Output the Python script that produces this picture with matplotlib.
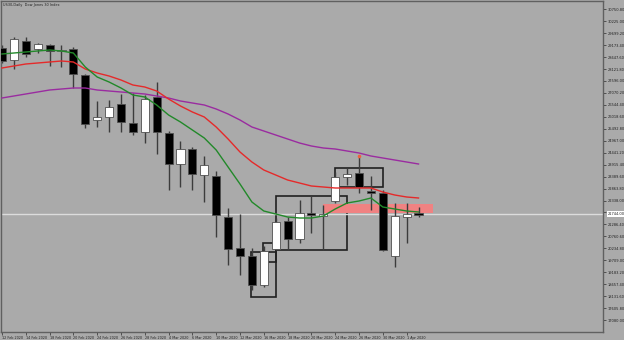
import matplotlib
matplotlib.use("Agg")
import matplotlib.pyplot as plt
from matplotlib.patches import Rectangle
import numpy as np

# fechas (una etiqueta cada 2 velas)
etiquetas_x = ["12 Feb 2020", "14 Feb 2020", "18 Feb 2020", "20 Feb 2020", "24 Feb 2020",
               "26 Feb 2020", "28 Feb 2020", "4 Mar 2020", "6 Mar 2020", "10 Mar 2020",
               "12 Mar 2020", "16 Mar 2020", "18 Mar 2020", "20 Mar 2020", "24 Mar 2020",
               "26 Mar 2020", "30 Mar 2020", "1 Apr 2020"]

# velas diarias
apertura = [29048, 28520, 29356, 29004, 29180, 28916, 29004, 27860, 25880, 26012,
            26584, 25748, 25352, 26892, 25308, 23944, 24604, 23460, 23416, 21612,
            20248, 19896, 18620, 20204, 21436, 20644, 21788, 21656, 22316, 23372,
            23548, 22756, 22668, 19896, 21612, 21788]
maximo = [29180, 29532, 29532, 29268, 29224, 29180, 29092, 27904, 26716, 26760,
          27024, 27068, 26980, 27552, 25396, 24956, 24692, 24296, 23636, 22008,
          21744, 20248, 20336, 21568, 21612, 22360, 22536, 22140, 23592, 23768,
          24252, 23416, 22800, 22228, 22228, 22052]
minimo = [28388, 28124, 28652, 28828, 28256, 28212, 27288, 25528, 25572, 25352,
          25352, 25220, 24868, 24384, 22800, 22932, 22800, 22272, 20732, 19500,
          19060, 18400, 18532, 20160, 20160, 20468, 20908, 20160, 22228, 23020,
          22668, 21920, 20116, 19412, 20468, 21612]
cierre = [28476, 29444, 28784, 29224, 28916, 28960, 27904, 25704, 26012, 26452,
          25792, 25352, 26804, 25352, 23944, 24604, 23504, 23900, 21700, 20204,
          19896, 18620, 20116, 21392, 20644, 21788, 21700, 21744, 23372, 23504,
          22932, 22668, 20160, 21656, 21744, 21700]

# medias moviles
media_rapida = [28784, 28828, 28872, 28916, 28960, 28916, 28828, 28212, 27772, 27552,
                27288, 26980, 26892, 26540, 26100, 25792, 25440, 25088, 24560, 23812,
                23064, 22272, 21876, 21744, 21612, 21568, 21568, 21656, 21964, 22228,
                22316, 22448, 22052, 21964, 21876, 21832]
media_media = [28168, 28256, 28344, 28388, 28432, 28476, 28432, 28124, 27948, 27816,
               27640, 27420, 27332, 27156, 26804, 26496, 26232, 26012, 25572, 25044,
               24472, 24032, 23680, 23460, 23240, 23108, 22976, 22932, 22888, 22888,
               22888, 22888, 22712, 22580, 22492, 22448]
media_lenta = [26848, 26936, 27024, 27112, 27200, 27244, 27288, 27288, 27200, 27156,
               27112, 27068, 27024, 26936, 26848, 26716, 26628, 26540, 26364, 26144,
               25880, 25572, 25396, 25220, 25044, 24868, 24736, 24648, 24604, 24516,
               24428, 24296, 24208, 24120, 24032, 23944]

# escala de precios
etiquetas_y = ["30750.80", "30225.00", "29699.20", "29173.40", "28647.60", "28121.80",
               "27596.00", "27070.20", "26544.40", "26018.60", "25492.80", "24967.00",
               "24441.20", "23915.40", "23389.60", "22863.80", "22338.00", "21812.20",
               "21286.40", "20760.60", "20234.80", "19709.00", "19183.20", "18657.40",
               "18131.60", "17605.80", "17080.00"]
precio_actual = 21744.0

# zonas dibujadas (indice inicial, indice final, precio bajo, precio alto)
cajas = [(20.9, 23.0, 18092, 20072),
         (21.9, 23.0, 19632, 20468),
         (23.0, 29.0, 20160, 22536),
         (28.0, 32.0, 22932, 23768)]
zona_rosa = (27.0, 36.2, 21788, 22184)
fractal = (30, 24300)

fondo = "#aaaaaa"
fig = plt.figure(figsize=(6.24, 3.4), dpi=100, facecolor=fondo)
ax = fig.add_axes([1 / 624, 8 / 340, 602 / 624, 331 / 340], facecolor=fondo)

n = len(apertura)
x = np.arange(n)

# zonas detras de las velas
for x0, x1, y0, y1 in cajas:
    ax.add_patch(Rectangle((x0, y0), x1 - x0, y1 - y0, fill=False,
                           edgecolor="#202020", lw=1.2, zorder=1))
ax.add_patch(Rectangle((zona_rosa[0], zona_rosa[2]), zona_rosa[1] - zona_rosa[0],
                       zona_rosa[3] - zona_rosa[2], facecolor="#f08282",
                       edgecolor="none", zorder=1))

# linea del precio actual
ax.axhline(precio_actual, color="#dcdcdc", lw=1.0, zorder=1.5)

# velas
for i in range(n):
    o, h, l, c = apertura[i], maximo[i], minimo[i], cierre[i]
    ax.vlines(i, l, h, color="#3c3c3c", lw=1.0, zorder=2)
    color = "white" if c >= o else "black"
    ax.bar(i, abs(c - o), bottom=min(o, c), width=0.68, color=color,
           edgecolor="#505050", lw=0.6, zorder=3)

# medias
ax.plot(x, media_lenta, color="#9a2ca0", lw=1.0, zorder=4)
ax.plot(x, media_media, color="#e52a2a", lw=1.0, zorder=4)
ax.plot(x, media_rapida, color="#22892a", lw=1.0, zorder=4)

ax.plot(fractal[0], fractal[1], "o", color="#f06040", ms=1.6, zorder=5)

ax.set_xlim(-0.08, 50.5)
ax.set_ylim(16552, 31116)

# ejes al estilo de la plataforma
for lado in ax.spines.values():
    lado.set_color("#606060")
    lado.set_linewidth(1.0)

ax.set_xticks(np.arange(0, n, 2))
ax.set_xticklabels(etiquetas_x, fontsize=2.4, ha="left", color="#202020")
valores_y = [float(v) for v in etiquetas_y]
ax.yaxis.tick_right()
ax.set_yticks(valores_y)
ax.set_yticklabels(etiquetas_y, fontsize=2.6, color="#202020")
ax.tick_params(axis="x", length=2.5, width=0.6, color="#404040", pad=0.2)
ax.tick_params(axis="y", length=2.5, width=0.6, color="#404040", pad=1.0)

# etiqueta del precio actual
ax.text(1.008, precio_actual, "%.2f" % precio_actual, transform=ax.get_yaxis_transform(),
        fontsize=2.6, color="#202020", va="center", ha="left", zorder=10, clip_on=False,
        bbox=dict(boxstyle="square,pad=0.25", facecolor="white", edgecolor="none"))

ax.text(0.004, 0.995, "US30,Daily  Dow Jones 30 Index", transform=ax.transAxes,
        fontsize=2.5, color="#202020", va="top", ha="left")

fig.savefig("out.png", dpi=100, facecolor=fondo)
